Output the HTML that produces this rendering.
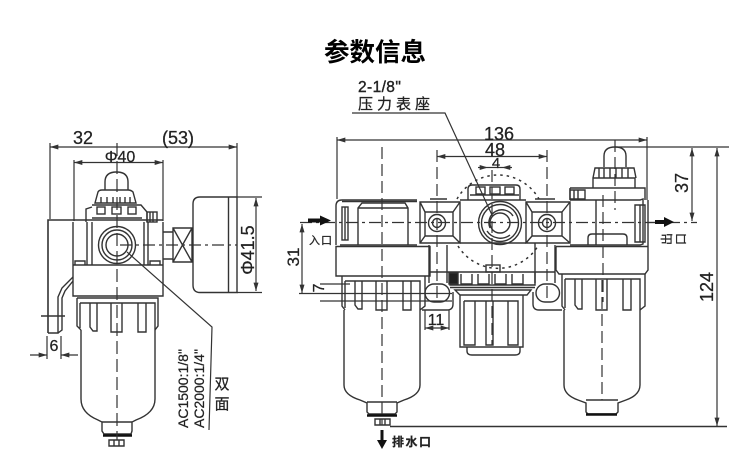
<!DOCTYPE html>
<html><head><meta charset="utf-8"><style>
html,body{margin:0;padding:0;background:#fff}
svg{display:block}
text{font-family:"Liberation Sans","Noto Sans CJK SC",sans-serif;fill:#222;stroke:#222;stroke-width:.25}
</style></head><body>
<svg width="750" height="467" viewBox="0 0 750 467" xmlns="http://www.w3.org/2000/svg">
<defs>
<marker id="a" viewBox="0 0 10 6" refX="10" refY="3" markerWidth="10" markerHeight="5" orient="auto-start-reverse" markerUnits="userSpaceOnUse"><path d="M0 0L10 3L0 6Z" fill="#333"/></marker>
</defs>
<text x="375" y="61" font-size="25.500" font-weight="700" text-anchor="middle" style="fill:#000;stroke:none;font-family:'Noto Sans CJK SC',sans-serif">参数信息</text>

<g fill="none" stroke="#333" stroke-width="1.2">
<!-- LEFT VIEW dims -->
<path d="M50 143V219M237 143V197M74 160V221M163 160V221"/>
<path d="M117 147H50" marker-end="url(#a)"/><path d="M117 147H237" marker-end="url(#a)"/>
<path d="M117 162.500H74" marker-end="url(#a)"/><path d="M117 162.500H163" marker-end="url(#a)"/>
<path d="M237 197H262M237 292.500H262"/>
<path d="M256 198V291" marker-start="url(#a)" marker-end="url(#a)"/>
<!-- left body -->
<g stroke-width="1.4">
<path d="M48 333V220H163" stroke-width="1.600"/>
<path d="M73 222V296H163V222"/><path d="M73 265H163"/>
<path d="M87 222V265M92 222V265M144 222V265M148 222V265"/>
<path d="M75 265V261H85V265M150 265V261H160V265"/>
<circle cx="117" cy="245" r="18.500"/><circle cx="117" cy="245" r="15"/><circle cx="117" cy="245" r="11"/>
<path d="M105 190V182Q105 172 116.500 172Q128 172 128 182V190"/>
<path d="M95 203L98 192Q99 190 102 190H128Q131 190 133 192L136 203Z"/>
<path d="M101 197V203M107 197V203M113 197V203M120 197V203M125 197V203M130 197V203"/>
<path d="M86 222V209L92 207M92 205H141L147 212V222M92 218H142"/>
<rect x="97" y="207" width="8" height="7"/><rect x="112" y="207" width="9" height="7"/><rect x="128" y="207" width="8" height="7"/>
<rect x="147" y="212" width="10" height="10"/><path d="M150 212V222M153 212V222"/>
<path d="M163 232H173V259H163M173 228H192V262H173ZM173 228L192 262M192 228L173 262"/>
<path d="M200 197H237V292.500H200Q193 292.500 193 285V204Q193 197 200 197Z"/><path d="M228.500 197V292"/>
<!-- handle -->
<path d="M73 277L62 288L58 297V333H48M73 281L65 291L62 298V330L58 333"/>
<path d="M41 316H65"/>
<!-- left cap + bowl -->
<path d="M77 298H158V326L155 330M77 298V326L81 330M80 303H155V330M80 303V328M90 303V327L93 331H97V303M111 303V332H122V303M138 303V332H146V303"/>
<path d="M81 330V399Q81 413 98 420L102 422V431L104 434H131L132 431V422L136 420Q155 413 155 399V330"/>
<path d="M102 422H132"/>
<path d="M103 435.500H132" stroke-width="2.600" stroke="#111"/>
<path d="M109 440H124V446H109ZM114 440V446M119 440V446"/>
</g>
<path d="M117 143V440" stroke-dasharray="13 5"/>
<path d="M120 245H237" stroke-dasharray="12 4 3 4"/>
<path d="M127 252L212 327L209 430" stroke-width="1.200"/>
<path d="M47 336V359M61 336V359"/>
<path d="M30 355H47" marker-end="url(#a)"/><path d="M78 355H61" marker-end="url(#a)"/>

<!-- RIGHT VIEW dims -->
<path d="M337 137V199M647 137V200"/>
<path d="M337 140H647" marker-start="url(#a)" marker-end="url(#a)"/>
<path d="M437 156.500H547" marker-start="url(#a)" marker-end="url(#a)"/>
<path d="M478 167.500H488" marker-end="url(#a)"/><path d="M512 167.500H502" marker-end="url(#a)"/><path d="M488 167.500H502"/>
<path d="M615 147H729"/><path d="M692 148V221" marker-start="url(#a)" marker-end="url(#a)"/>
<path d="M717 148V426" marker-start="url(#a)" marker-end="url(#a)"/>
<path d="M390 426.500H727" stroke-width="1.400"/>
<path d="M302 224V293" marker-start="url(#a)" marker-end="url(#a)"/>
<path d="M299 293.500H452M320 284H350M320 301H452"/>
<path d="M425 310V330M449 310V330"/><path d="M425 328H449" marker-start="url(#a)" marker-end="url(#a)"/>
<path d="M352 113H445L492 215"/>

<g stroke-width="1.400">
<!-- left unit -->
<path d="M336 245V206Q336 200 342 200H417" /><path d="M342 201.500H417M340 245H417" stroke-width="1.400"/>
<path d="M336 246.500H430V276H336Z"/>
<rect x="342" y="207" width="6" height="33"/><path d="M345 207V240"/>
<path d="M358 245V208L362 203H405L408 208V245M358 208H408"/>
<!-- left-unit cap/bowl -->
<path d="M342 276V306L345 310M425 276V306L420 310M345 281H420V310M345 281V308M355 281V305L358 309H362V281M376 281V310H387V281M403 281V310H411V281"/>
<path d="M344 310V385Q344 395 360 400L367 403V412L369 414H395L397 412V403L404 400Q420 395 420 385V310"/>
<path d="M367 402H397"/>
<path d="M367 415.500H397" stroke-width="2.600" stroke="#111"/>
<path d="M375 419H390V425H375ZM380 419V425M385 419V425"/>
<!-- valve blocks -->
<path d="M420 202H460V243H420ZM425 212H453V236H425ZM420 202L425 212M460 202L453 212M420 243L425 236M460 243L453 236"/>
<circle cx="437" cy="223" r="8.500"/><circle cx="437" cy="223" r="4.500"/>
<path d="M526 202H570V243H526ZM532 212H562V236H532ZM526 202L532 212M570 202L562 212M526 243L532 236M570 243L562 236"/>
<circle cx="547" cy="223" r="8.500"/><circle cx="547" cy="223" r="4.500"/>
<path d="M430 199H447M535 199H555"/>
<!-- middle body -->
<path d="M460 200H526M460 243H526M468 200V189Q468 185 472 185H516Q520 185 520 189V200M470 195H519"/>
<rect x="476" y="187" width="9" height="7"/><rect x="490" y="187" width="10" height="7"/><rect x="505" y="187" width="9" height="7"/>
<circle cx="500" cy="223" r="21.500"/><circle cx="500" cy="223" r="18.500"/><circle cx="500" cy="223" r="10"/>
<path d="M490 228A13 13 0 0 1 513 216M487 231A16 16 0 0 0 510 235"/>
<path d="M429 245V283M447 245V283M535 243V283M555 245V283M429 272H555"/>
<rect x="486" y="265" width="14" height="7"/>
<rect x="425" y="284" width="24.500" height="18" rx="9"/><rect x="536" y="284" width="23.500" height="18" rx="9"/>
<path d="M422 310H447Q453 310 453 304V292M533 292V304Q533 310 539 310H562"/>
<path d="M450 272V285H535V272M450 287.500H535"/>
<rect x="449" y="273" width="9" height="11" fill="#222"/>
<path d="M461 274V284H472V274M478 274V284H489V274M495 274V284H506V274M512 274V284H523V274"/>
<!-- regulator -->
<path d="M455 290H531L527 295H460ZM460 295V347H523V295"/>
<path d="M464 301H518V345H508V301M493 301V345H486V301M475 301V345H464V301"/>
<path d="M467 347V351Q467 355 472 355H515Q520 355 520 351V347"/>
<!-- right unit -->
<path d="M570 200H640L643 199V244L640 245H570"/>
<path d="M596 200V245M556 246.500V270L559 274H645L648 270V200M556 246.500H648"/>
<path d="M588 245V238Q588 234 592 234H623Q627 234 627 238V245M635 205H645V242H635ZM640 205V242"/>
<path d="M570 188V200M570 188H645V200M593 188V178H635V188M593 178L595 168H634L636 178M604 167V156Q604 147 615 147Q626 147 626 156V167"/>
<path d="M599 168V178M604 168V178M610 168V178M616 168V178M622 168V178M628 168V178"/>
<path d="M570 190H585V199H570ZM574 190V199M578 190V199"/>
<!-- right cap + bowl -->
<path d="M562 274V306L565 310M645 274V306L640 310M565 279H640V310M565 279V308M575 279V305L578 309H582V279M596 279V310H607V279M623 279V310H631V279"/>
<path d="M564 310V385Q564 395 578 400L586 403V412L588 414H616L618 412V403L626 400Q640 395 640 385V310"/>
<path d="M586 400H618"/>
<path d="M586 414.500H617" stroke-width="2.600" stroke="#111"/>
</g>

<!-- dotted circle -->
<path d="M457 199A47 47 0 0 1 539 199M458 246A47 47 0 0 0 538 246" stroke-dasharray="2.500 4" stroke-width="1.500"/>
<!-- centre lines -->
<path d="M382 147V425M437 150V301M492 170V345M547 150V301M603 195V302M602 280V400M615 140V210" stroke-dasharray="12 5"/>
<path d="M300 222.500H697" stroke-dasharray="12 4 3 4"/>
<path d="M648 222.500H655"/>
</g>
<!-- flow arrows -->
<path d="M308 218.500H320V215.500L331 220.500L320 225.500V222.500H308Z" fill="#111"/>
<path d="M655 220H664V217L674 222L664 227V224H655Z" fill="#111"/>
<path d="M380.500 430H383.500V440H387L382 449L377 440H380.500Z" fill="#111"/>

<!-- labels -->
<g font-size="18" text-anchor="middle">
<text x="83" y="144">32</text>
<text x="178" y="144">(53)</text>
<text x="120" y="162" font-size="16">Φ40</text>
<text x="54" y="351" font-size="16">6</text>
<text transform="translate(254,250) rotate(-90)">Φ41.5</text>
<text x="499" y="140">136</text>
<text x="495" y="156">48</text>
<text x="496" y="168" font-size="15">4</text>
<text transform="translate(688,183) rotate(-90)">37</text>
<text transform="translate(713,287) rotate(-90)">124</text>
<text transform="translate(299,257) rotate(-90)" font-size="17">31</text>
<text transform="translate(324,288) rotate(-90)" font-size="16">7</text>
<text x="436" y="325" font-size="16">11</text>
</g>
<text transform="translate(188,428) rotate(-90)" font-size="14">AC1500:1/8"</text>
<text transform="translate(204,428) rotate(-90)" font-size="14">AC2000:1/4"</text>
<text x="222" y="389" font-size="15" text-anchor="middle">双</text>
<text x="222" y="409" font-size="15" text-anchor="middle">面</text>
<text x="358" y="92" font-size="15.500" style="letter-spacing:.4px;stroke-width:.4">2-1/8"</text>
<text x="358" y="109" font-size="15" style="letter-spacing:4px">压力表座</text>
<text x="309" y="244" font-size="11" style="letter-spacing:1px">入口</text>
<text transform="translate(671,245) rotate(-90)" font-size="12">出</text>
<text transform="translate(685,245) rotate(-90)" font-size="12">口</text>
<text x="392" y="446" font-size="12" font-weight="700" style="letter-spacing:1.500px">排水口</text>
</svg>
</body></html>
